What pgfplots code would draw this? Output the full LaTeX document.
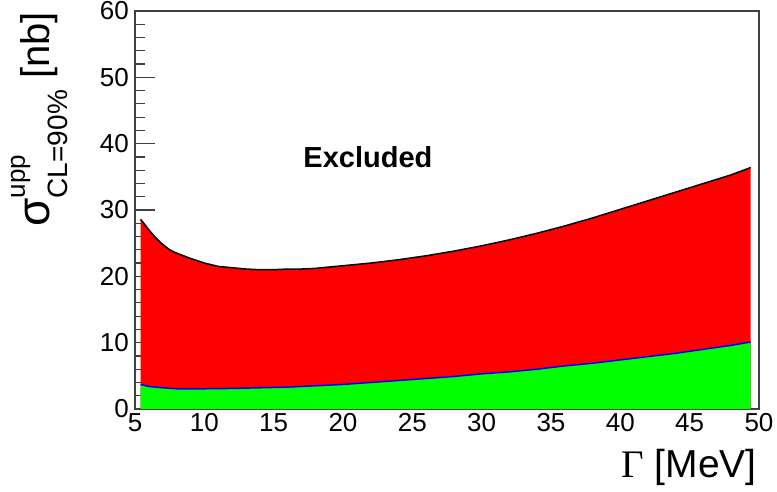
\documentclass[border=0pt]{standalone}
\usepackage{pgfplots}
\usepackage{pgfplotstable}
\pgfplotsset{compat=1.18}
\usepackage{fontspec}
\setmainfont{Liberation Sans}
\newfontfamily\seriffont{Liberation Serif}
\pgfplotstableread{
x y
5.4 28.6
6 27.0
6.5 25.8
7 24.8
7.5 24.0
8 23.5
9 22.7
10 22.0
11 21.5
12 21.3
13 21.1
14 21.0
15 21.0
16 21.1
17 21.1
18 21.2
19 21.4
20 21.6
22 22.0
24 22.5
26 23.1
28 23.8
30 24.6
32 25.5
34 26.5
36 27.6
38 28.8
40 30.1
42 31.4
44 32.7
46 34.0
48 35.3
49.4 36.4
}\uptab
\pgfplotstableread{
x y
5.4 3.7
6 3.4
7 3.2
8 3.05
10 3.05
12 3.1
14 3.2
16 3.3
18 3.5
20 3.7
22 4.0
24 4.3
26 4.6
28 4.9
30 5.3
32 5.6
34 6.0
36 6.5
38 6.9
40 7.4
42 7.9
44 8.4
46 9.0
48 9.6
49.4 10.1
}\lowtab
\begin{document}
\begin{tikzpicture}
\begin{axis}[
  scale only axis, width=624pt, height=398pt,
  xmin=5, xmax=50, ymin=0, ymax=60,
  xtick={5,10,...,50}, ytick={0,10,...,60},
  minor y tick num=4,
  tick align=inside, xtick pos=bottom, ytick pos=left,
  major tick length=20pt, minor tick length=10pt,
  x tick style={draw=none},
  axis line style={black!75, line width=1.2pt},
  y tick style={black!75, line width=1.2pt},
  /pgf/number format/assume math mode=true,
  tick label style={font=\fontsize{26}{26}\selectfont},
  yticklabel style={anchor=east, inner sep=0pt, xshift=-6pt},
  xticklabel style={anchor=north, inner sep=0pt, yshift=-4pt},
]
\addplot[fill=red, draw=none] table {\uptab} \closedcycle;
\addplot[fill=green, draw=none] table {\lowtab} \closedcycle;
\addplot[blue, line width=1.5pt] table {\lowtab};
\addplot[black, line width=1.5pt] table {\uptab};
\node[font=\bfseries\fontsize{29}{29}\selectfont] at (axis cs:21.8,38) {Excluded};
\end{axis}
\node[rotate=90, anchor=base east, inner sep=0pt, font=\fontsize{40}{40}\selectfont] at (-85pt,397pt)
  {{\fontsize{46}{46}\selectfont σ}\rlap{\raisebox{25pt}{\fontsize{26}{26}\selectfont upp}}\raisebox{-18pt}{\fontsize{28}{28}\selectfont CL=90\%} [nb]};
\node[anchor=base east, inner sep=0pt, font=\fontsize{39}{39}\selectfont] at (622pt,-68pt)
  {{\seriffont\fontsize{39}{39}\selectfont Γ} [MeV]};
\path (-135pt,-82pt) rectangle (642pt,409pt);
\end{tikzpicture}
\end{document}
